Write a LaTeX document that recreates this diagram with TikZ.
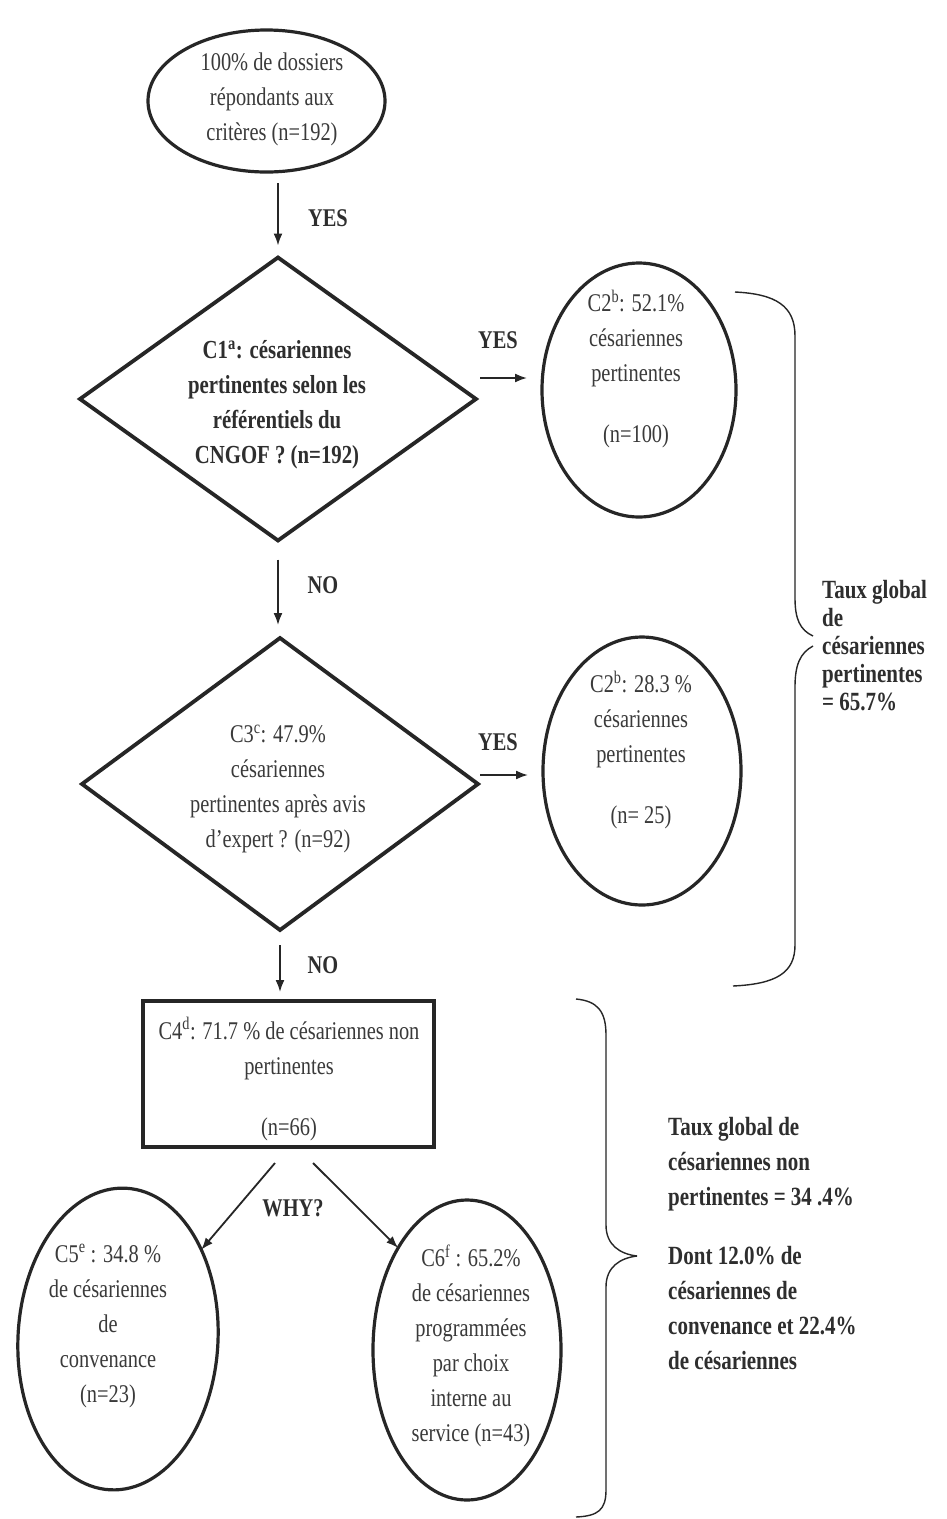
\documentclass[tikz,border=0pt]{standalone}
\usepackage{fontspec}
\setmainfont{Liberation Serif}[FakeStretch=0.8]
\usetikzlibrary{shapes.geometric,arrows.meta,calc}
\definecolor{ink}{HTML}{262626}
\definecolor{txtc}{HTML}{3A3A3A}
\definecolor{btxtc}{HTML}{2E2E2E}
\begin{document}
\begin{tikzpicture}[x=1pt,y=-1pt,
  shapeline/.style={draw=ink, fill=none, inner sep=0pt, outer sep=0pt},
  oval/.style={shapeline, ellipse, line width=3.2pt},
  dia/.style={shapeline, diamond, line width=3.8pt},
  boxnode/.style={shapeline, rectangle, line width=4.6pt},
  txt/.style={align=center, inner sep=0pt, text=txtc, font=\fontsize{25.5}{35}\selectfont},
  btxt/.style={align=center, inner sep=0pt, text=btxtc, font=\fontsize{26}{35}\selectfont\bfseries},
  side/.style={align=left, inner sep=0pt, text=btxtc, anchor=west},
  lbl/.style={inner sep=0pt, text=btxtc, font=\fontsize{25.5}{28}\selectfont\bfseries},
  arr/.style={draw=ink, line width=1.8pt, -{Latex[length=12pt,width=9pt]}},
  brc/.style={draw=ink, line width=1.4pt}
]
\useasboundingbox (0,0) rectangle (946,1519);
\fill[white] (0,0) rectangle (946,1519);

% start
\node[oval, minimum width=237pt, minimum height=142pt] (start) at (266.5,101) {};
\node[txt] (startT) at (272,99) {100\% de dossiers\\répondants aux\\critères (n=192)};

% decision 1
\node[dia, minimum width=396pt, minimum height=283pt] (d1) at (278,399) {};
\node[btxt] (d1T) at (277,405) {C1\textsuperscript{a}: césariennes\\pertinentes selon les\\référentiels du\\CNGOF ? (n=192)};

% C2 top
\node[oval, minimum width=194pt, minimum height=254pt] (c2a) at (639,390) {};
\node[txt] (c2aT) at (636,369) {C2\textsuperscript{b}: 52.1\%\\césariennes\\pertinentes\\[26pt](n=100)};

% decision 2
\node[dia, minimum width=396pt, minimum height=292pt] (d2) at (280,784) {};
\node[txt] (d2T) at (278,789) {C3\textsuperscript{c}: 47.9\%\\césariennes\\pertinentes après avis\\d’expert ? (n=92)};

% C2 bottom
\node[oval, minimum width=198pt, minimum height=268pt] (c2b) at (642,771) {};
\node[txt] (c2bT) at (641,750) {C2\textsuperscript{b}: 28.3 \%\\césariennes\\pertinentes\\[26pt](n= 25)};

% C4
\node[boxnode, minimum width=291pt, minimum height=146pt] (c4) at (288.5,1074) {};
\node[txt] (c4T) at (289,1079) {C4\textsuperscript{d}: 71.7 \% de césariennes non\\pertinentes\\[26pt](n=66)};

% C5, C6
\node[oval, minimum width=200pt, minimum height=302pt, rotate=-3] (c5) at (118,1339) {};
\node[txt] (c5T) at (108,1326) {C5\textsuperscript{e} : 34.8 \%\\de césariennes\\de\\convenance\\(n=23)};
\node[oval, minimum width=188pt, minimum height=300pt] (c6) at (467,1350) {};
\node[txt] (c6T) at (471,1346) {C6\textsuperscript{f} : 65.2\%\\de césariennes\\programmées\\par choix\\interne au\\service (n=43)};

% connectors
\draw[arr, shorten <=11pt, shorten >=12pt] (d1.north |- start.south) -- (d1.north);
\node[lbl] (yes0) at (328,218) {YES};

\draw[arr] ([shift={(4pt,21pt)}]d1.east) -- ([shift={(-15pt,12pt)}]c2a.west);
\node[lbl] (yes1) at (498,340) {YES};

\draw[arr, shorten <=19pt, shorten >=13pt] (d1.south) -- (d1.south |- d2.north);
\node[lbl] (no1) at (323,585) {NO};

\draw[arr] ([shift={(2pt,9pt)}]d2.east) -- ([shift={(-15pt,-4pt)}]c2b.west);
\node[lbl] (yes2) at (498,742) {YES};

\draw[arr, shorten <=15pt, shorten >=9pt] (d2.south) -- (d2.south |- c4.north);
\node[lbl] (no2) at (323,965) {NO};

\draw[arr] ([shift={(-13.5pt,-16pt)}]c4.south) -- (c5.50);
\draw[arr] ([shift={(24.5pt,-16pt)}]c4.south) -- (c6.124);
\node[lbl] (why) at (293,1208) {WHY?};

% upper brace
\draw[brc] (735,292) .. controls (776,294) and (795,306) .. (795,336) -- (795,598) .. controls (795,619) and (800,630) .. (813,636);
\draw[brc] (813,646) .. controls (800,653) and (795,665) .. (795,687) -- (795,945) .. controls (795,973) and (776,984) .. (733,986);
\node[side, font=\fontsize{26.25}{28}\selectfont\bfseries] (glob1) at (822,646) {Taux global\\de\\césariennes\\pertinentes\\= 65.7\%};

% lower brace
\draw[brc] (576,999) .. controls (598,1001) and (606,1012) .. (606,1035) -- (606,1225) .. controls (606,1245) and (620,1254) .. (637,1256);
\draw[brc] (637,1256) .. controls (620,1258) and (606,1267) .. (606,1287) -- (606,1490) .. controls (606,1510) and (598,1516) .. (576,1517);
\node[side, font=\fontsize{26.25}{35}\selectfont\bfseries] (glob2) at (668,1244) {Taux global de\\césariennes non\\pertinentes = 34 .4\%\\[24pt]Dont 12.0\% de\\césariennes de\\convenance et 22.4\%\\de césariennes};
\end{tikzpicture}
\end{document}
